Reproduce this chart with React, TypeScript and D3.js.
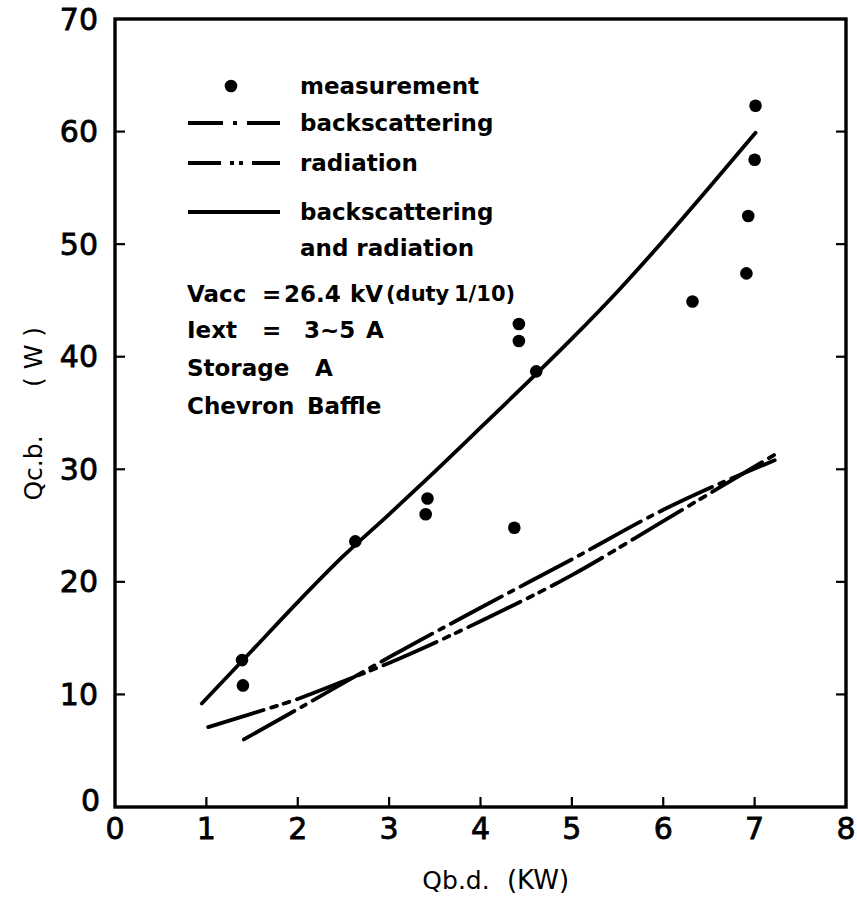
import React from "react";
import * as d3 from "d3";

const xTicks = [0, 1, 2, 3, 4, 5, 6, 7, 8];
const yTicks = [0, 10, 20, 30, 40, 50, 60, 70];

const measX = [1.39, 1.4, 2.63, 3.42, 3.4, 4.37, 4.42, 4.42, 4.61, 6.32, 6.91, 6.93, 7.0, 7.01];
const measY = [13.05, 10.8, 23.6, 27.4, 26.0, 24.8, 42.9, 41.4, 38.7, 44.9, 47.4, 52.5, 57.5, 62.3];

const bothX = [0.95, 1.5, 2.0, 2.5, 3.0, 3.5, 4.0, 4.5, 5.0, 5.5, 6.0, 6.5, 7.01];
const bothY = [9.2, 13.9, 18.2, 22.3, 26.0, 29.8, 33.7, 37.6, 41.6, 45.8, 50.3, 55.0, 59.9];

const backX = [1.41, 2.0, 3.0, 4.0, 5.0, 6.0, 7.22];
const backY = [6.0, 8.7, 13.3, 17.7, 22.0, 26.4, 30.8];

const radX = [1.02, 1.5, 2.0, 2.54, 3.0, 4.0, 5.0, 6.0, 7.22];
const radY = [7.1, 8.3, 9.6, 11.3, 12.8, 16.5, 20.6, 25.4, 31.3];

const legendLabels = ["measurement", "backscattering", "radiation", "backscattering", "and radiation"];

const FONT = "'DejaVu Sans', sans-serif";

export default function App() {
  const W = 857, H = 900;
  const x = d3.scaleLinear().domain([0, 8]).range([115, 846]);
  const y = d3.scaleLinear().domain([0, 70]).range([807, 19]);
  const line = d3.line<[number, number]>().x(d => x(d[0])).y(d => y(d[1])).curve(d3.curveMonotoneX);
  const pts = (xs: number[], ys: number[]) => xs.map((v, i) => [v, ys[i]] as [number, number]);

  const BACK_DASH = "58 8 5 8";
  const RAD_DASH = "58 8 6 7 6 8";
  const lw = 3.8;

  return (
    <svg width={W} height={H} style={{ position: "absolute", left: 0, top: 0, background: "#fff" }}
      fontFamily={FONT}>
      <rect x={0} y={0} width={W} height={H} fill="#fff" />
      {/* frame */}
      <rect x={x(0)} y={y(70)} width={x(8) - x(0)} height={y(0) - y(70)} fill="none" stroke="#000" strokeWidth={3.4} />
      {/* ticks */}
      {xTicks.slice(1, -1).map(t => (
        <line key={"xt" + t} x1={x(t)} x2={x(t)} y1={y(0)} y2={y(0) - 10} stroke="#000" strokeWidth={2.2} />
      ))}
      {yTicks.slice(1, -1).map(t => (
        <g key={"yt" + t}>
          <line x1={x(0)} x2={x(0) + 10} y1={y(t)} y2={y(t)} stroke="#000" strokeWidth={2.2} />
          <line x1={x(8)} x2={x(8) - 10} y1={y(t)} y2={y(t)} stroke="#000" strokeWidth={2.2} />
        </g>
      ))}
      {/* tick labels */}
      <g stroke="#000" strokeWidth={0.8}>
        {xTicks.map(t => (
          <text key={"xl" + t} x={x(t)} y={y(0) + 21} fontSize={30} textAnchor="middle" dominantBaseline="central">{t}</text>
        ))}
        {yTicks.map(t => (
          <text key={"yl" + t} x={t === 0 ? 100 : 98} y={y(t) + (t === 0 ? -7 : 0)} fontSize={30} textAnchor="end" dominantBaseline="central">{t}</text>
        ))}
      </g>
      {/* axis titles */}
      <text x={456} y={880} fontSize={25} textAnchor="middle" dominantBaseline="central">Qb.d.</text>
      <text x={538} y={880} fontSize={26} textAnchor="middle" dominantBaseline="central">(KW)</text>
      <text transform="translate(33,468) rotate(-90)" fontSize={25} textAnchor="middle" dominantBaseline="central">Qc.b.</text>
      <text transform="translate(33,357) rotate(-90)" fontSize={25} textAnchor="middle" dominantBaseline="central" xmlSpace="preserve">( W )</text>

      {/* curves */}
      <path d={line(pts(bothX, bothY)) || ""} fill="none" stroke="#000" strokeWidth={lw} strokeLinecap="round" />
      <path d={line(pts(backX, backY)) || ""} fill="none" stroke="#000" strokeWidth={lw} strokeDasharray={BACK_DASH} strokeLinecap="round" />
      <path d={line(pts(radX, radY)) || ""} fill="none" stroke="#000" strokeWidth={lw} strokeDasharray={RAD_DASH} strokeLinecap="round" />

      {/* points */}
      {measX.map((v, i) => (
        <circle key={"m" + i} cx={x(v)} cy={y(measY[i])} r={6.3} fill="#000" />
      ))}

      {/* legend */}
      <circle cx={231} cy={86} r={6.3} fill="#000" />
      <line x1={188} x2={280} y1={123} y2={123} stroke="#000" strokeWidth={lw} strokeDasharray="35 10 4 10 40" />
      <line x1={188} x2={280} y1={163} y2={163} stroke="#000" strokeWidth={lw} strokeDasharray="33 9 4 5 4 9 40" />
      <line x1={188} x2={280} y1={212} y2={212} stroke="#000" strokeWidth={lw} />
      <g fontWeight="bold">
        {legendLabels.map((l, i) => (
          <text key={"lg" + i} x={300} y={[86, 123, 163, 212, 248][i]} fontSize={23} dominantBaseline="central">{l}</text>
        ))}
      </g>

      {/* annotations */}
      <g fontSize={23} fontWeight="bold">
        <text x={187} y={294} dominantBaseline="central">Vacc</text>
        <text x={262} y={294} dominantBaseline="central">=</text>
        <text x={284} y={294} dominantBaseline="central">26.4</text>
        <text x={350} y={294} dominantBaseline="central">kV</text>
        <text x={386} y={294} dominantBaseline="central" fontSize={21}>(duty</text>
        <text x={454} y={294} dominantBaseline="central" fontSize={21}>1/10)</text>
        <text x={187} y={330} dominantBaseline="central">Iext</text>
        <text x={262} y={330} dominantBaseline="central">=</text>
        <text x={304} y={330} dominantBaseline="central">3~5</text>
        <text x={366} y={330} dominantBaseline="central">A</text>
        <text x={187} y={368} dominantBaseline="central">Storage</text>
        <text x={315} y={368} dominantBaseline="central">A</text>
        <text x={187} y={406} dominantBaseline="central">Chevron</text>
        <text x={307} y={406} dominantBaseline="central">Baffle</text>
      </g>
    </svg>
  );
}
